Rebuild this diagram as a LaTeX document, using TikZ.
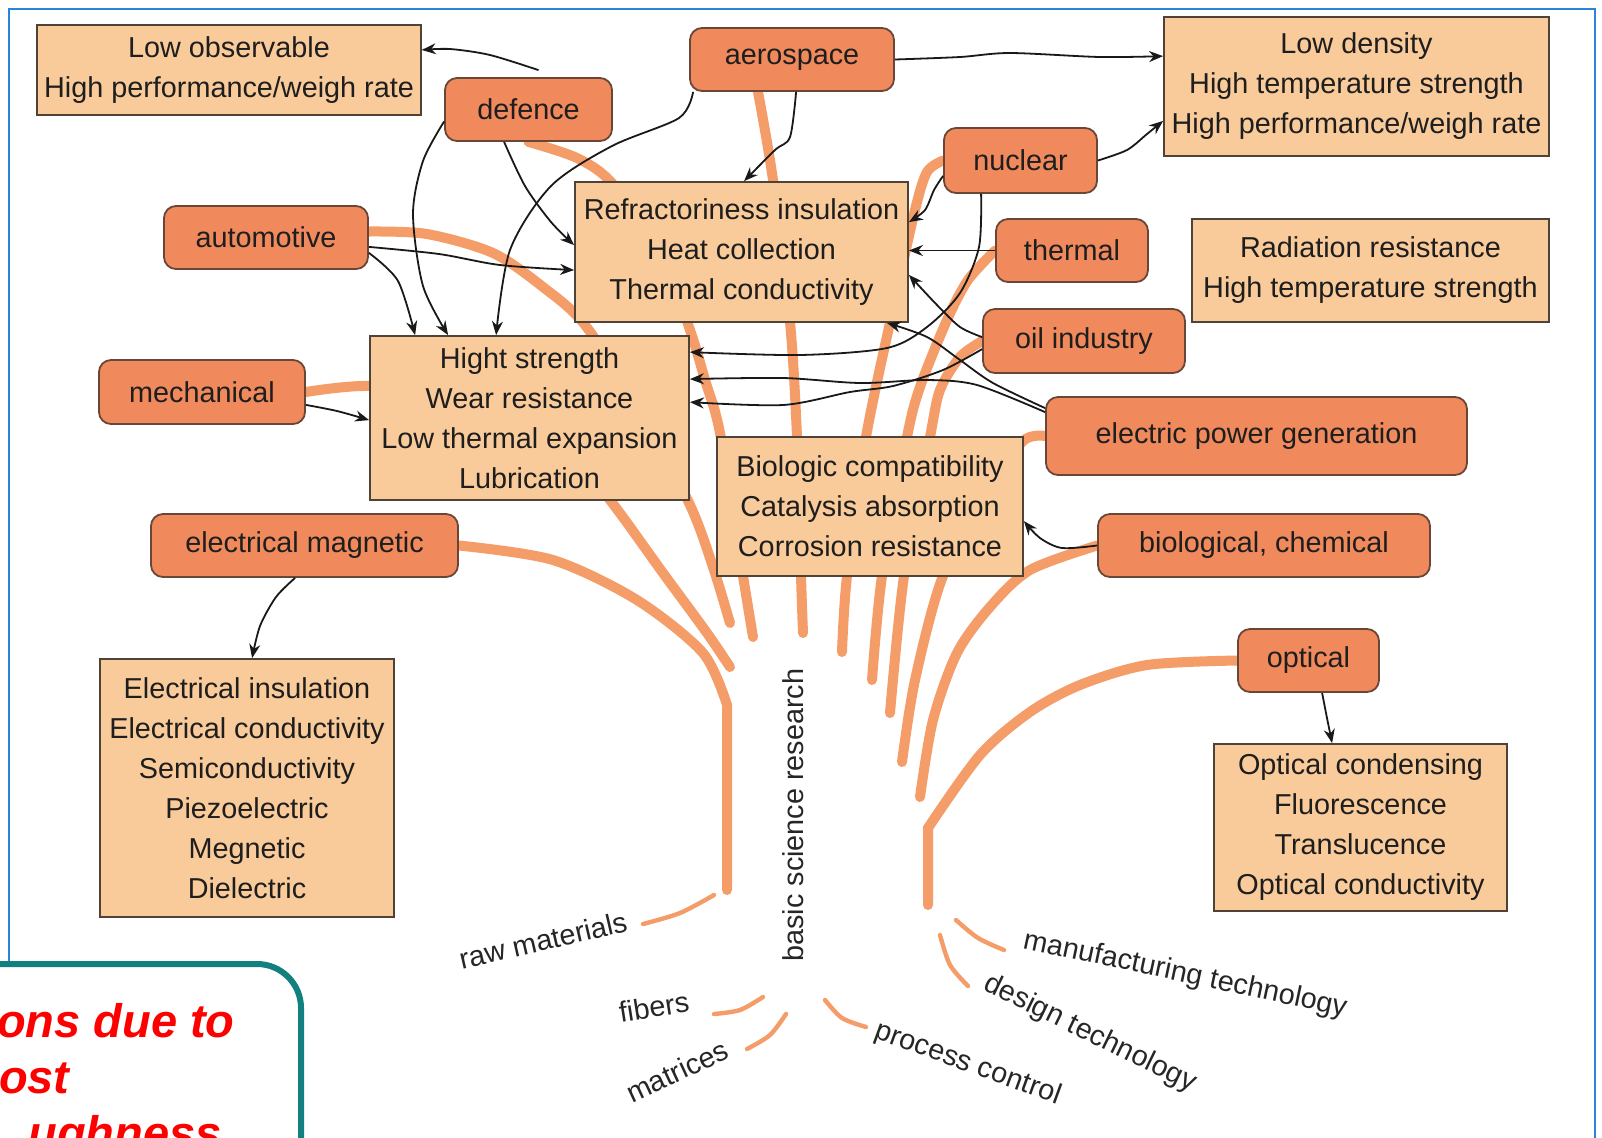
\documentclass[tikz,border=0pt]{standalone}
\usepackage{fontspec}
\setmainfont{Liberation Sans}
\usetikzlibrary{calc,arrows.meta}
\pgfdeclarelayer{bg}
\pgfsetlayers{bg,main}
\definecolor{lightbox}{HTML}{FACB9A}
\definecolor{darknode}{HTML}{F08A5C}
\definecolor{branchc}{HTML}{F59D69}
\definecolor{nodeedge}{HTML}{6A4636}
\definecolor{boxedge}{HTML}{4F4237}
\definecolor{txt}{HTML}{1E1E1E}
\definecolor{framec}{HTML}{2A84DA}
\definecolor{tealc}{HTML}{11807F}
\begin{document}
\begin{tikzpicture}[x=0.5pt,y=-0.5pt,
 every node/.style={text=txt, font=\fontsize{14.4pt}{20pt}\selectfont, inner sep=0pt, align=center},
 propbox/.style={draw=boxedge, line width=0.9pt, fill=lightbox},
 industry/.style={draw=nodeedge, line width=0.9pt, fill=darknode, rounded corners=6pt},
 branch/.style={draw=branchc, line width=5pt, line cap=round},
 thinbranch/.style={draw=branchc, line width=2.2pt, line cap=round},
 link/.style={draw=black!90, line width=0.9pt, -{Stealth[length=7pt,width=5.5pt]}},
 tag/.style={text=black!85},
 redtxt/.style={text=red, font=\fontsize{23.5pt}{28pt}\selectfont\bfseries\itshape}
]
\useasboundingbox (0,0) rectangle (1602,1137);
\clip (0,0) rectangle (1602,1137);

% ---------- nodes ----------
\node[propbox, minimum width=192pt, minimum height=45pt] (lowobs) at (229,70) {Low observable\\High performance/weigh rate};
\node[industry, minimum width=102pt, minimum height=31.5pt] (aero) at (792,59.5) {aerospace};
\node[industry, minimum width=83.5pt, minimum height=31.5pt] (defence) at (528.5,109.5) {defence};
\node[propbox, minimum width=192.5pt, minimum height=69.5pt] (lowden) at (1356.5,86.5) {Low density\\High temperature strength\\High performance/weigh rate};
\node[industry, minimum width=76.5pt, minimum height=32.5pt] (nuclear) at (1020.5,160.5) {nuclear};
\node[propbox, minimum width=166.5pt, minimum height=70pt] (refr) at (741.5,252) {Refractoriness insulation\\Heat collection\\Thermal conductivity};
\node[industry, minimum width=76pt, minimum height=31.5pt] (thermal) at (1072,250.5) {thermal};
\node[propbox, minimum width=178.5pt, minimum height=51.5pt] (radia) at (1370.5,270.5) {Radiation resistance\\High temperature strength};
\node[industry, minimum width=102pt, minimum height=31.5pt] (auto) at (266,237.5) {automotive};
\node[industry, minimum width=101pt, minimum height=32pt] (oil) at (1084,341) {oil industry};
\node[propbox, minimum width=159.5pt, minimum height=82pt] (hight) at (529.5,418) {Hight strength\\Wear resistance\\Low thermal expansion\\Lubrication};
\node[industry, minimum width=103pt, minimum height=32pt] (mech) at (202,392) {mechanical};
\node[industry, minimum width=210.5pt, minimum height=39pt] (epg) at (1256.5,436) {electric power generation};
\node[propbox, minimum width=153pt, minimum height=69.5pt] (biobox) at (870,506.5) {Biologic compatibility\\Catalysis absorption\\Corrosion resistance};
\node[industry, minimum width=153.5pt, minimum height=31.5pt] (emag) at (304.5,545.5) {electrical magnetic};
\node[industry, minimum width=166pt, minimum height=31.5pt] (biochem) at (1264,545.5) {biological, chemical};
\node[industry, minimum width=70.5pt, minimum height=31.5pt] (optical) at (1308.5,660.5) {optical};
\node[propbox, minimum width=146.5pt, minimum height=83.5pt] (optbox) at (1360.5,827.5) {Optical condensing\\Fluorescence\\Translucence\\Optical conductivity};
\node[propbox, minimum width=147pt, minimum height=129pt] (elecbox) at (247,788) {Electrical insulation\\Electrical conductivity\\Semiconductivity\\Piezoelectric\\Megnetic\\Dielectric};

% ---------- named points ----------
\coordinate (trunkL) at (727,890);
\coordinate (trunkR) at (928,905);
\coordinate (kinkL) at (727,705);
\coordinate (kinkR) at (928,828);
\coordinate (autoS) at ($(auto.east)+(0,-6)$);
\coordinate (aeroS) at ($(aero.south)+(-34,0)$);

\coordinate (d1s) at ($(defence.north)+(10,-7)$);
\coordinate (lo1) at ($(lowobs.east)+(0,-20)$);
\coordinate (d2s) at ($(defence.west)+(0,12)$);
\coordinate (h1) at ($(hight.north west)+(46,0)$);
\coordinate (h2) at ($(hight.north west)+(79,0)$);
\coordinate (h3) at ($(hight.north west)+(127,0)$);
\coordinate (d3s) at ($(defence.south west)+(60,0)$);
\coordinate (r1) at ($(refr.north west)+(0,64)$);
\coordinate (r2) at ($(refr.north west)+(0,89)$);
\coordinate (r3) at ($(refr.north west)+(170,0)$);
\coordinate (r4) at ($(refr.north east)+(0,41)$);
\coordinate (r5) at ($(refr.south east)+(0,-48)$);
\coordinate (r6) at ($(refr.south east)+(-22,0)$);
\coordinate (a4s) at ($(aero.south west)+(4,0)$);
\coordinate (a5s) at ($(aero.south west)+(107,0)$);
\coordinate (ld1) at ($(lowden.north west)+(0,40)$);
\coordinate (ld2) at ($(lowden.south west)+(0,-36)$);
\coordinate (au1) at ($(auto.south east)+(0,-23)$);
\coordinate (au2) at ($(auto.south east)+(0,-17)$);
\coordinate (me1) at ($(mech.south east)+(0,-20)$);
\coordinate (h4) at ($(hight.north west)+(0,85)$);
\coordinate (nu1) at ($(nuclear.south west)+(0,-18)$);
\coordinate (nu2) at ($(nuclear.south west)+(38,0)$);
\coordinate (h5) at ($(hight.north east)+(0,17)$);
\coordinate (h6) at ($(hight.north east)+(0,44)$);
\coordinate (h7) at ($(hight.north east)+(0,67)$);
\coordinate (oi1) at ($(oil.north west)+(0,29)$);
\coordinate (oi2) at ($(oil.north west)+(0,41)$);
\coordinate (ep1) at ($(epg.north west)+(0,16)$);
\coordinate (ep2) at ($(epg.north west)+(0,12)$);
\coordinate (bb1) at ($(biobox.north east)+(0,85)$);
\coordinate (em1) at ($(emag.south west)+(145,0)$);
\coordinate (eb1) at ($(elecbox.north west)+(153,0)$);
\coordinate (op1) at ($(optical.south west)+(85,0)$);
\coordinate (ob1) at ($(optbox.north west)+(119,0)$);

% ---------- background layer: frame and branches ----------
\begin{pgfonlayer}{bg}
\fill[white] (0,0) rectangle (1602,1137);
\draw[framec, line width=1pt] (9,9) rectangle (1595,1300);
\draw[branch] plot[smooth] coordinates {(emag.east) (553,560) (637,600) (703,653) (kinkL)} -- (trunkL);
\draw[branch] plot[smooth] coordinates {(mech.east) (370,386) (470,398) (560,442) (610,500) (663,573) (707,633) (730,667)};
\draw[branch] plot[smooth] coordinates {(autoS) (427,234) (493,253) (543,287) (585,325) (640,410) (690,505) (713,567) (730,623)};
\draw[branch] plot[smooth] coordinates {(defence.south) (577,158) (612,183) (660,250) (690,330) (705,380) (720,433) (743,576) (753,637)};
\draw[branch] plot[smooth] coordinates {(aeroS) (773,180) (790,322) (797,437) (801,576) (803,633)};
\draw[branch] plot[smooth] coordinates {(nuclear.west) (927,172) (915,210) (895,300) (866,437) (847,576) (842,652)};
\draw[branch] plot[smooth] coordinates {(thermal.west) (968,280) (947,320) (920,387) (907,437) (882,576) (872,680)};
\draw[branch] plot[smooth] coordinates {(oil.west) (960,357) (940,390) (930,437) (904,576) (890,713)};
\draw[branch] plot[smooth] coordinates {(epg.west) (1023,441) (990,490) (943,576) (915,680) (902,762)};
\draw[branch] plot[smooth] coordinates {(biochem.west) (1030,570) (990,607) (957,653) (933,720) (920,797)};
\draw[branch] plot[smooth] coordinates {(optical.west) (1147,665) (1080,685) (1030,712) (980,755) (kinkR)} -- (trunkR);
\end{pgfonlayer}

% ---------- small strokes near bottom labels ----------
\draw[thinbranch] plot[smooth] coordinates {(643,924) (680,913) (714,895)};
\draw[thinbranch] plot[smooth] coordinates {(714,1014) (740,1010) (763,997)};
\draw[thinbranch] plot[smooth] coordinates {(747,1049) (770,1035) (786,1014)};
\draw[thinbranch] plot[smooth] coordinates {(825,1000) (842,1018) (866,1027)};
\draw[thinbranch] plot[smooth] coordinates {(940,935) (950,965) (968,986)};
\draw[thinbranch] plot[smooth] coordinates {(956,920) (978,938) (1004,950)};

% ---------- black arrows ----------
\draw[link] plot[smooth] coordinates {(d1s) (490,55) (450,49) (lo1)};
\draw[link] plot[smooth] coordinates {(d2s) (423,161) (413,214) (423,286) (h2)};
\draw[link] plot[smooth] coordinates {(d3s) (525,186) (551,222) (r1)};
\draw[link] plot[smooth] coordinates {(a4s) (679,118) (612,146) (551,186) (510,250) (h3)};
\draw[link] plot[smooth] coordinates {(a5s) (790,137) (775,150) (r3)};
\draw[link] plot[smooth] coordinates {(aero.east) (960,57) (1010,53) (1100,57) (ld1)};
\draw[link] plot[smooth] coordinates {(au1) (439,254) (500,265) (r2)};
\draw[link] plot[smooth] coordinates {(au2) (398,281) (h1)};
\draw[link] plot[smooth] coordinates {(me1) (337,411) (h4)};
\draw[link] plot[smooth] coordinates {(nu1) (934,190) (925,210) (r4)};
\draw[link] plot[smooth] coordinates {(nu2) (979,247) (960,293) (927,327) (887,348) (800,355) (h5)};
\draw[link] (thermal.west) -- (thermal.west -| refr.east);
\draw[link] plot[smooth] coordinates {(oi1) (960,327) (937,305) (r5)};
\draw[link] plot[smooth] coordinates {(oi2) (943,370) (893,386) (850,392) (783,405) (h7)};
\draw[link] plot[smooth] coordinates {(ep1) (977,385) (927,380) (860,383) (783,378) (h6)};
\draw[link] plot[smooth] coordinates {(ep2) (993,383) (960,360) (927,337) (r6)};
\draw[link] plot[smooth] coordinates {(biochem.west) (1062,548) (1040,538) (bb1)};
\draw[link] plot[smooth] coordinates {(em1) (276,597) (260,626) (eb1)};
\draw[link] plot[smooth] coordinates {(op1) (1327,718) (ob1)};
\draw[link] plot[smooth] coordinates {(nuclear.east) (1127,150) (1147,134) (ld2)};

% ---------- labels ----------
\node[tag, rotate=90] (bsr) at (793,815) {basic science research};
\node[tag, rotate=13] (raw) at (543,940) {raw materials};
\node[tag, rotate=9] (fib) at (654,1007) {fibers};
\node[tag, rotate=25] (mat) at (677,1071) {matrices};
\node[tag, rotate=-20] (proc) at (968,1064) {process control};
\node[tag, rotate=-26] (des) at (1090,1034) {design technology};
\node[tag, rotate=-12] (manu) at (1185,975) {manufacturing technology};

% ---------- teal callout ----------
\draw[tealc, line width=3pt, fill=white, rounded corners=22pt] (-100,964) rectangle (301,1300);
\node[redtxt, anchor=base east] (t1) at (235,1037) {ons due to};
\node[redtxt, anchor=base east] (t2) at (70,1093) {ost};
\node[redtxt, anchor=base east] (t3) at (222,1149) {ughness};
\end{tikzpicture}
\end{document}
